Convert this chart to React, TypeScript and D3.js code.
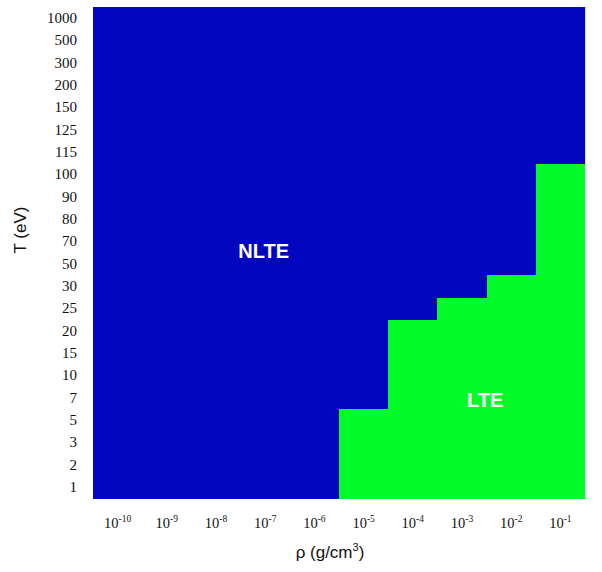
import React from "react";
import * as d3 from "d3";

const temperatures = ["1", "2", "3", "5", "7", "10", "15", "20", "25", "30", "50", "70", "80", "90", "100", "115", "125", "150", "200", "300", "500", "1000"];
const densityExponents = [-10, -9, -8, -7, -6, -5, -4, -3, -2, -1];
// highest temperature (eV) still in LTE for each density column (null = never LTE)
const lteMaxTemperature: (string | null)[] = [null, null, null, null, null, "5", "20", "25", "30", "100"];
const regionLabels = [
  { text: "NLTE", col: 3.47, row: 11.05 },
  { text: "LTE", col: 7.97, row: 4.4 },
];

const W = 602;
const H = 572;
const margin = { left: 93, top: 7, right: 17, bottom: 74 };
const BLUE = "#0206be";
const GREEN = "#04fb2a";

export default function App() {
  const x = d3
    .scaleBand<number>()
    .domain(densityExponents)
    .range([margin.left, W - margin.right])
    .padding(0);
  const y = d3
    .scaleBand<string>()
    .domain(temperatures)
    .range([H - margin.bottom, margin.top])
    .padding(0);

  const cells: { e: number; t: string; lte: boolean }[] = [];
  densityExponents.forEach((e, i) => {
    const maxT = lteMaxTemperature[i];
    const maxIdx = maxT === null ? -1 : temperatures.indexOf(maxT);
    temperatures.forEach((t, j) => {
      cells.push({ e, t, lte: j <= maxIdx });
    });
  });

  const plotBottom = H - margin.bottom;
  const rowToY = d3.scaleLinear().domain([0, temperatures.length]).range([plotBottom, margin.top]);
  const colToX = d3.scaleLinear().domain([0, densityExponents.length]).range([margin.left, W - margin.right]);

  return (
    <svg width={W} height={H} style={{ position: "absolute", left: 0, top: 0, background: "#fff" }}>
      <rect x={0} y={0} width={W} height={H} fill="#fff" />
      {cells.map((c) => (
        <rect
          key={`${c.e}_${c.t}`}
          x={x(c.e)!}
          y={y(c.t)!}
          width={x.bandwidth() + 0.5}
          height={y.bandwidth() + 0.5}
          fill={c.lte ? GREEN : BLUE}
          shapeRendering="crispEdges"
        />
      ))}
      <line
        x1={W - margin.right + 0.5}
        x2={W - margin.right + 0.5}
        y1={margin.top}
        y2={plotBottom}
        stroke="#d8d8f0"
        strokeWidth={1}
      />
      {regionLabels.map((l) => (
        <text
          key={l.text}
          x={colToX(l.col)}
          y={rowToY(l.row)}
          fill="#fff"
          fontFamily="Liberation Sans, Arial, sans-serif"
          fontWeight="bold"
          fontSize={20}
          textAnchor="middle"
          dominantBaseline="central"
        >
          {l.text}
        </text>
      ))}
      {temperatures.map((t) => (
        <text
          key={t}
          x={77}
          y={y(t)! + y.bandwidth() / 2}
          fontFamily="Liberation Serif, Times New Roman, serif"
          fontSize={15}
          fill="#111"
          textAnchor="end"
          dominantBaseline="central"
        >
          {t}
        </text>
      ))}
      {densityExponents.map((e) => (
        <text
          key={e}
          x={x(e)! + x.bandwidth() / 2}
          y={528}
          fontFamily="Liberation Serif, Times New Roman, serif"
          fontSize={14.5}
          fill="#111"
          textAnchor="middle"
        >
          10
          <tspan fontSize={9.5} dy={-6}>
            {e}
          </tspan>
        </text>
      ))}
      <text
        x={330}
        y={558}
        fontFamily="Liberation Sans, Arial, sans-serif"
        fontSize={17}
        fill="#111"
        textAnchor="middle"
      >
        ρ (g/cm
        <tspan fontSize={11} dy={-7}>3</tspan>
        <tspan dy={7}>)</tspan>
      </text>
      <text
        transform={`translate(26, 230) rotate(-90)`}
        fontFamily="Liberation Sans, Arial, sans-serif"
        fontSize={17}
        fill="#111"
        textAnchor="middle"
      >
        T (eV)
      </text>
    </svg>
  );
}
